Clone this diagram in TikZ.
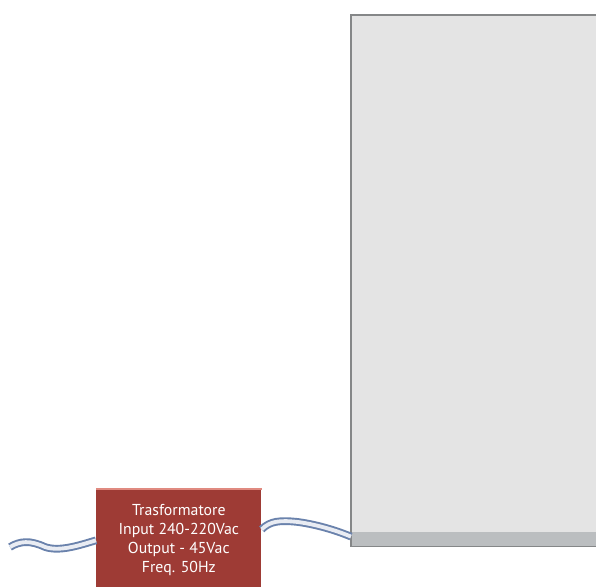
\documentclass[tikz,border=0pt]{standalone}
\usepackage{fontspec}
\setsansfont{PT Sans}
\usepackage{tikz}
\usetikzlibrary{positioning, calc}
\definecolor{boxred}{HTML}{9E3B35}
\definecolor{boxtop}{HTML}{E08A80}
\definecolor{panelfill}{HTML}{E4E4E4}
\definecolor{panelstrip}{HTML}{BBBEC0}
\definecolor{panelline}{HTML}{858788}
\definecolor{wireblue}{HTML}{6A82AC}
\tikzset{
  wire/.style={draw=wireblue, line width=1.1pt, double=white!85!wireblue, double distance=2.2pt},
  trafo/.style={fill=boxred, draw=none, minimum width=3.3cm, minimum height=2.04cm,
    text=white, align=center, font=\sffamily\fontsize{9}{10.8}\selectfont, inner sep=0pt}
}

\begin{document}
\begin{tikzpicture}[x=0.02cm, y=-0.02cm]
    \useasboundingbox (0,0) rectangle (596,586);
    \clip (0,0) rectangle (596,586);

    % panel
    \node[fill=panelfill, draw=none, minimum width=5cm, minimum height=10.62cm, inner sep=0pt,
      anchor=north west] (panel) at (351,15) {};
    \fill[panelstrip] ($(panel.south west)+(0,-15)$) rectangle (panel.south east);
    \draw[panelline, line width=1.4pt] (panel.south west) -- (panel.north west) -- (panel.north east);
    \draw[panelline, line width=0.9pt] (panel.south west) -- (panel.south east);

    % transformer
    \node[trafo, anchor=north west] (trafo) at (96,489)
      {Trasformatore\\Input 240-220Vac\\Output - 45Vac\\Freq. 50Hz};
    \draw[boxtop, line width=0.8pt] (trafo.north west) -- (trafo.north east);

    % cables
    \coordinate (mains) at (10,547);
    \draw[wire] (mains) .. controls (20,541) and (30,540) .. (45,547)
      .. controls (60,552) and (80,545) .. (trafo.west);
    \draw[wire] ([yshift=0.22cm]trafo.east) .. controls (270,521) and (280,520) .. (298,522)
      .. controls (320,525) and (340,532) .. ([yshift=0.2cm]panel.south west);
\end{tikzpicture}
\end{document}
